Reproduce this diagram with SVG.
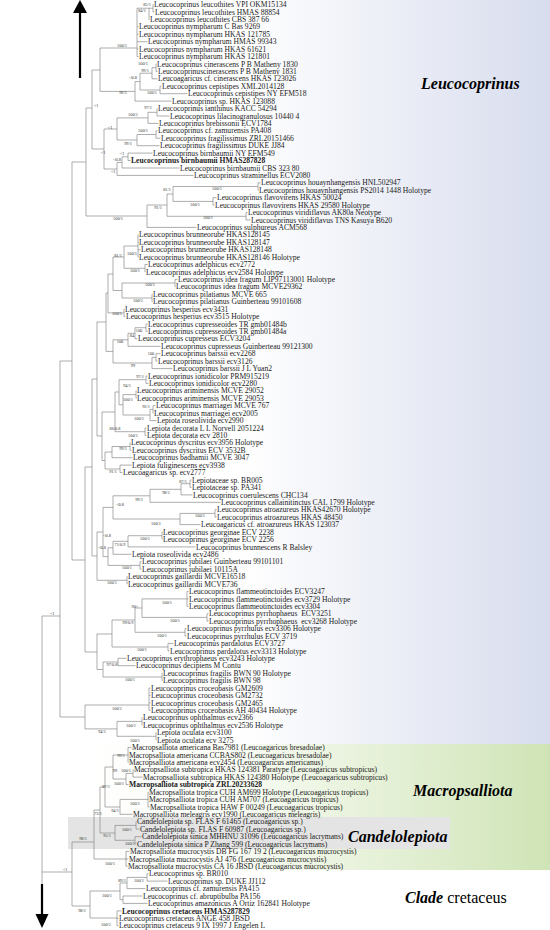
<svg xmlns="http://www.w3.org/2000/svg" width="550" height="930" viewBox="0 0 550 930">
<style>
.t{font-family:"Liberation Serif",serif;font-size:7.6px;fill:#1a1a1a}
.b{font-weight:bold}
.s{font-family:"Liberation Serif",serif;font-size:4.3px;fill:#333;text-anchor:middle}
.c{fill:none;stroke:#8a8a8a;stroke-width:0.7}
.h{font-family:"Liberation Serif",serif;font-size:16px;fill:#000}
</style>
<defs>
<linearGradient id="gL" x1="0" x2="1" y1="0" y2="0"><stop offset="0" stop-color="#fff"/><stop offset="0.35" stop-color="#fff"/><stop offset="1" stop-color="#d8ddee"/></linearGradient>
<linearGradient id="gM" x1="0" x2="1" y1="0" y2="0"><stop offset="0" stop-color="#fff"/><stop offset="0.3" stop-color="#fbfdf8"/><stop offset="1" stop-color="#cfe4b6"/></linearGradient>
</defs>
<g id="backgrounds">
<rect x="72" y="0" width="478" height="744" fill="url(#gL)"/>
<rect x="72" y="744" width="478" height="126" fill="url(#gM)"/>
<rect x="68" y="817" width="382" height="32" fill="#e4e4e4"/>
</g>
<g id="connectors">
<path class="c" d="M153 4.5V11.9M153 4.5H153.5M153 11.9H154.5
M149 8.2V19.4M149 8.2H153M149 19.4H149.5
M137 8.2V56.5M137 8.2H149M137 26.8H138.5M137 34.2H138.5M137 41.7H147.5M137 49.1H138.5M137 56.5H138.5
M156 63.9V71.4M156 63.9H156.5M156 71.4H157.5
M152 67.6V78.8M152 67.6H156M152 78.8H157.5
M160 86.2V93.7M160 86.2H161.5M160 93.7H187.5
M140 73.2V90M140 73.2H152M140 90H160
M135 81.6V101.1M135 81.6H140M135 101.1H171.5
M100 48V91.4M100 48H137M100 91.4H135
M157 108.5V116M157 108.5H157.5M157 116H169.5
M148 112.3V123.4M148 112.3H157M148 123.4H158.5
M156 130.8V138.2M156 130.8H157.5M156 138.2H160.5
M137 134.5V145.7M137 134.5H156M137 145.7H159.5
M117 117.9V140M117 117.9H148M117 140H137
M128 153.1V160.5M128 153.1H152.5M128 160.5H130.5
M122 156.8V168M122 156.8H128M122 168H179.5
M117 162.4V175.4M117 162.4H122M117 175.4H193.5
M104 129V169M104 129H117M104 169H117
M92 70V149M92 70H100M92 149H104
M258 182.8V190.3M258 182.8H260.5M258 190.3H258.5
M213 197.7V205.1M213 197.7H216.5M213 205.1H214.5
M173 186.5V201.4M173 186.5H258M173 201.4H213
M246 212.5V220M246 212.5H247.5M246 220H250.5
M167 194V216.3M167 194H173M167 216.3H246
M147 205V227.4M147 205H167M147 227.4H196.5
M86 108V216M86 108H92M86 216H147
M138 234.8V257.1M138 234.8H138.5M138 242.3H138.5M138 249.7H140.5M138 257.1H138.5
M145 264.5V272M145 264.5H147.5M145 272H145.5
M124 246V268.3M124 246H138M124 268.3H145
M175 279.4V286.8M175 279.4H177.5M175 286.8H175.5
M152 294.3V301.7M152 294.3H152.5M152 301.7H152.5
M122 283V298M122 283H175M122 298H152
M113 257V290.5M113 257H124M113 290.5H122
M124 309.1V316.6M124 309.1H124.5M124 316.6H125.5
M108 274V312.9M108 274H113M108 312.9H124
M146 324V331.4M146 324H147.5M146 331.4H147.5
M135 327.7V338.8M135 327.7H146M135 338.8H137.5
M128 333.3V346.3M128 333.3H135M128 346.3H160.5
M156 353.7V361.1M156 353.7H160.5M156 361.1H157.5
M152 357.4V368.6M152 357.4H156M152 368.6H172.5
M113 339.8V363M113 339.8H128M113 363H152
M106 293V351.4M106 293H108M106 351.4H113
M146 376V383.4M146 376H147.5M146 383.4H148.5
M136 390.8V398.3M136 390.8H136.5M136 398.3H136.5
M153 405.7V413.1M153 405.7H155.5M153 413.1H153.5
M150 409.4V420.6M150 409.4H153M150 420.6H156.5
M123 394.6V415M123 394.6H136M123 415H150
M119 379.7V404.8M119 379.7H146M119 404.8H123
M145 428V435.4M145 428H146.5M145 435.4H146.5
M115 392V431.7M115 392H119M115 431.7H145
M130 442.8V450.3M130 442.8H130.5M130 450.3H131.5
M112 446.5V457.7M112 446.5H130M112 457.7H132.5
M120 465.1V472.6M120 465.1H131.5M120 472.6H122.5
M105 452V469M105 452H112M105 469H120
M102 412V460.5M102 412H115M102 460.5H105
M97 322V436M97 322H106M97 436H102
M190 480V487.4M190 480H191.5M190 487.4H191.5
M181 483.7V494.9M181 483.7H190M181 494.9H192.5
M150 489.3V502.3M150 489.3H181M150 502.3H220.5
M215 509.7V517.1M215 509.7H216.5M215 517.1H216.5
M180 513.4V524.6M180 513.4H215M180 524.6H200.5
M113 495.8V519M113 495.8H150M113 519H180
M162 532V539.4M162 532H162.5M162 539.4H162.5
M128 535.7V546.9M128 535.7H162M128 546.9H195.5
M113 541.3V554.3M113 541.3H128M113 554.3H131.5
M140 561.7V569.1M140 561.7H141.5M140 569.1H141.5
M108 547.8V565.4M108 547.8H113M108 565.4H140
M103 507.4V556.6M103 507.4H113M103 556.6H108
M127 576.6V584M127 576.6H127.5M127 584H127.5
M97 532V580.3M97 532H103M97 580.3H127
M187 591.4V606.3M187 591.4H188.5M187 598.9H188.5M187 606.3H188.5
M207 613.7V621.1M207 613.7H208.5M207 621.1H208.5
M142 598.9V617.4M142 598.9H187M142 617.4H207
M185 628.6V636M185 628.6H186.5M185 636H186.5
M135 608V632.3M135 608H142M135 632.3H185
M168 643.4V650.9M168 643.4H173.5M168 650.9H169.5
M112 620V647M112 620H135M112 647H168
M118 658.3V665.7M118 658.3H126.5M118 665.7H135.5
M162 673.1V680.6M162 673.1H162.5M162 680.6H162.5
M103 662V677M103 662H118M103 677H162
M97 634V669.5M97 634H112M97 669.5H103
M92 379V556M92 379H97M92 556H97
M85 467V652M85 467H92M85 652H97
M149 688V710.3M149 688H150.5M149 695.4H150.5M149 702.9H150.5M149 710.3H150.5
M142 717.7V725.1M142 717.7H142.5M142 725.1H142.5
M156 732.6V740M156 732.6H156.5M156 740H156.5
M117 721.4V736.3M117 721.4H142M117 736.3H156
M85 705V728.9M85 705H149M85 728.9H117
M72 162V560M72 162H86M72 560H85
M60 361V717M60 361H72M60 717H85
M128 747.4V762.3M128 747.4H131.5M128 754.9H128.5M128 762.3H128.5
M133 769.7V777.1M133 769.7H133.5M133 777.1H142.5
M126 773.4V784.6M126 773.4H133M126 784.6H128.5
M113 755V779M113 755H128M113 779H126
M148 792V806.9M148 792H148.5M148 799.4H148.5M148 806.9H149.5
M120 799.4V814.3M120 799.4H148M120 814.3H132.5
M105 767V807M105 767H113M105 807H120
M136 821.7V829.1M136 821.7H136.5M136 829.1H139.5
M135 836.6V844M135 836.6H141.5M135 844H136.5
M115 825.4V840.3M115 825.4H136M115 840.3H135
M100 787V833M100 787H105M100 833H115
M126 851.4V866.3M126 851.4H129.5M126 858.9H128.5M126 866.3H127.5
M94 810V859M94 810H100M94 859H126
M147 873.7V881.1M147 873.7H148.5M147 881.1H167.5
M127 877.4V888.6M127 877.4H147M127 888.6H145.5
M123 896V903.4M123 896H142.5M123 903.4H147.5
M120 883V899.7M120 883H127M120 899.7H123
M117 910.9V925.7M117 910.9H121.5M117 918.3H118.5M117 925.7H118.5
M90 891V918M90 891H120M90 918H117
M72 842V906M72 842H94M72 906H90
M42 616V884M42 616H60M42 872H72"/>
<path d="M80 78V12" stroke="#000" stroke-width="2.2"/>
<path d="M73 13L80 0L87 13z" fill="#000"/>
<path d="M42 884V915" stroke="#000" stroke-width="2.2"/>
<path d="M35.5 914L42 928L48.5 914z" fill="#000"/>
</g>
<g id="support">
<text class="s" x="147" y="5.5">85/1</text>
<text class="s" x="142" y="11.5">84/1</text>
<text class="s" x="122" y="46.5">100/1</text>
<text class="s" x="143" y="64.5">100/1</text>
<text class="s" x="145" y="71.5">99/1</text>
<text class="s" x="133" y="78.5">-/0.8</text>
<text class="s" x="152" y="93.5">100/1</text>
<text class="s" x="123" y="93.5">96/1</text>
<text class="s" x="96" y="106.5">-/1</text>
<text class="s" x="148" y="108.5">97/1</text>
<text class="s" x="133" y="115.5">100/1</text>
<text class="s" x="110" y="128.5">-/1</text>
<text class="s" x="143" y="131.5">100/1</text>
<text class="s" x="128" y="144.5">99/1</text>
<text class="s" x="103" y="153.5">-/1</text>
<text class="s" x="122" y="154.5">-/1</text>
<text class="s" x="117" y="160.5">-/0.8</text>
<text class="s" x="113" y="172.5">-/1</text>
<text class="s" x="167" y="190.5">81/1</text>
<text class="s" x="217" y="189.5">100/1</text>
<text class="s" x="195" y="205.5">100/1</text>
<text class="s" x="158" y="208.5">91/1</text>
<text class="s" x="208" y="218.5">100/1</text>
<text class="s" x="118" y="219.5">100/1</text>
<text class="s" x="132" y="254.5">100/1</text>
<text class="s" x="118" y="256.5">81/1</text>
<text class="s" x="135" y="271.5">100/1</text>
<text class="s" x="150" y="285.5">100/1</text>
<text class="s" x="138" y="301.5">100/1</text>
<text class="s" x="117" y="314.5">100/1</text>
<text class="s" x="139" y="331.5">100</text>
<text class="s" x="132" y="336.5">84</text>
<text class="s" x="120" y="342.5">100</text>
<text class="s" x="151" y="354.5">100</text>
<text class="s" x="133" y="366.5">99</text>
<text class="s" x="140" y="377.5">97/1</text>
<text class="s" x="127" y="386.5">94/1</text>
<text class="s" x="128" y="400.5">100/1</text>
<text class="s" x="146" y="407.5">92/1</text>
<text class="s" x="139" y="419.5">100/1</text>
<text class="s" x="115" y="429.5">86/0.8</text>
<text class="s" x="133" y="436.5">100/1</text>
<text class="s" x="123" y="449.5">99/1</text>
<text class="s" x="113" y="472.5">91/1</text>
<text class="s" x="183" y="482.5">87/1</text>
<text class="s" x="166" y="493.5">98/1</text>
<text class="s" x="139" y="500.5">99/1</text>
<text class="s" x="120" y="505.5">-/0.8</text>
<text class="s" x="200" y="516.5">100/1</text>
<text class="s" x="156" y="524.5">100/1</text>
<text class="s" x="107" y="536.5">-/0.8</text>
<text class="s" x="145" y="539.5">100/1</text>
<text class="s" x="120" y="545.5">71/0.9</text>
<text class="s" x="102" y="548.5">-/0.8</text>
<text class="s" x="127" y="568.5">100/1</text>
<text class="s" x="112" y="583.5">100/1</text>
<text class="s" x="167" y="603.5">100/1</text>
<text class="s" x="135" y="607.5">90/-</text>
<text class="s" x="52" y="614.5">-/1</text>
<text class="s" x="175" y="621.5">100/1</text>
<text class="s" x="128" y="623.5">99/0.9</text>
<text class="s" x="162" y="636.5">100/1</text>
<text class="s" x="142" y="650.5">100/1</text>
<text class="s" x="112" y="665.5">97/0.8</text>
<text class="s" x="130" y="680.5">100/1</text>
<text class="s" x="117" y="709.5">100/1</text>
<text class="s" x="131" y="726.5">100/1</text>
<text class="s" x="102" y="732.5">94/1</text>
<text class="s" x="135" y="741.5">100/1</text>
<text class="s" x="121" y="756.5">99/1</text>
<text class="s" x="115" y="771.5">99</text>
<text class="s" x="126" y="771.5">100/1</text>
<text class="s" x="119" y="784.5">100/1</text>
<text class="s" x="106" y="787.5">87/1</text>
<text class="s" x="135" y="804.5">100/1</text>
<text class="s" x="115" y="811.5">94/1</text>
<text class="s" x="98" y="814.5">73/1</text>
<text class="s" x="127" y="830.5">100/1</text>
<text class="s" x="107" y="836.5">95/1</text>
<text class="s" x="83" y="839.5">98/1</text>
<text class="s" x="130" y="844.5">100/1</text>
<text class="s" x="110" y="864.5">100/1</text>
<text class="s" x="65" y="870.5">-/1</text>
<text class="s" x="122" y="881.5">89/1</text>
<text class="s" x="139" y="881.5">100/1</text>
<text class="s" x="107" y="896.5">100/1</text>
<text class="s" x="82" y="911.5">98/1</text>
<text class="s" x="106" y="925.5">100/1</text>
</g>
<g id="leaves">
<g id="n1"><text class="t" x="154" y="7.1">Leucocoprinus leucothites VPI OKM15134</text></g>
<g id="n2"><text class="t" x="155" y="14.5">Leucocoprinus leucothites HMAS 88854</text></g>
<g id="n3"><text class="t" x="150" y="22">Leucocoprinus leucothites CBS 387 66</text></g>
<g id="n4"><text class="t" x="139" y="29.4">Leucocoprinus nympharum C Bas 9269</text></g>
<g id="n5"><text class="t" x="139" y="36.8">Leucocoprinus nympharum HKAS 121785</text></g>
<g id="n6"><text class="t" x="148" y="44.3">Leucocoprinus nympharum HMAS 99343</text></g>
<g id="n7"><text class="t" x="139" y="51.7">Leucocoprinus nympharum HKAS 61621</text></g>
<g id="n8"><text class="t" x="139" y="59.1">Leucocoprinus nympharum HKAS 121801</text></g>
<g id="n9"><text class="t" x="157" y="66.5">Leucocoprinus cinerascens P B Matheny 1830</text></g>
<g id="n10"><text class="t" x="158" y="74">Leucocoprinuscinerascens P B Matheny 1831</text></g>
<g id="n11"><text class="t" x="158" y="81.4">Leucoagaricus cf. cinerascens HKAS 123026</text></g>
<g id="n12"><text class="t" x="162" y="88.8">Leucocoprinus cepistipes XML2014128</text></g>
<g id="n13"><text class="t" x="188" y="96.3">Leucocoprinus cepistipes NY EFM518</text></g>
<g id="n14"><text class="t" x="172" y="103.7">Leucocoprinus sp. HKAS 123088</text></g>
<g id="n15"><text class="t" x="158" y="111.1">Leucocoprinus ianthinus KACC 54294</text></g>
<g id="n16"><text class="t" x="170" y="118.6">Leucocoprinus lilacinogranulosus 10440 4</text></g>
<g id="n17"><text class="t" x="159" y="126">Leucocoprinus brebissonii ECV1784</text></g>
<g id="n18"><text class="t" x="158" y="133.4">Leucocoprinus cf. zamurensis PA408</text></g>
<g id="n19"><text class="t" x="161" y="140.8">Leucocoprinus fragilissimus ZRL20151466</text></g>
<g id="n20"><text class="t" x="160" y="148.3">Leucocoprinus fragilissimus DUKE JJ84</text></g>
<g id="n21"><text class="t" x="153" y="155.7">Leucocoprinus birnbaumii NY EFM549</text></g>
<g id="n22"><text class="t b" x="131" y="163.1">Leucocoprinus birnbaumii HMAS287828</text></g>
<g id="n23"><text class="t" x="180" y="170.6">Leucocoprinus birnbaumii CBS 323 80</text></g>
<g id="n24"><text class="t" x="194" y="178">Leucocoprinus straminellus ECV2080</text></g>
<g id="n25"><text class="t" x="261" y="185.4">Leucocoprinus houaynhangensis HNL502947</text></g>
<g id="n26"><text class="t" x="259" y="192.9">Leucocoprinus houaynhangensis PS2014 1448 Holotype</text></g>
<g id="n27"><text class="t" x="217" y="200.3">Leucocoprinus flavovirens HKAS 50024</text></g>
<g id="n28"><text class="t" x="215" y="207.7">Leucocoprinus flavovirens HKAS 29580 Holotype</text></g>
<g id="n29"><text class="t" x="248" y="215.1">Leucocoprinus viridiflavus AK80a Neotype</text></g>
<g id="n30"><text class="t" x="251" y="222.6">Leucocoprinus viridiflavus TNS Kasuya B620</text></g>
<g id="n31"><text class="t" x="197" y="230">Leucocoprinus sulphureus ACM568</text></g>
<g id="n32"><text class="t" x="139" y="237.4">Leucocoprinus brunneorube HKAS128145</text></g>
<g id="n33"><text class="t" x="139" y="244.9">Leucocoprinus brunneorube HKAS128147</text></g>
<g id="n34"><text class="t" x="141" y="252.3">Leucocoprinus brunneorube HKAS128148</text></g>
<g id="n35"><text class="t" x="139" y="259.7">Leucocoprinus brunneorube HKAS128146 Holotype</text></g>
<g id="n36"><text class="t" x="148" y="267.1">Leucocoprinus adelphicus ecv2772</text></g>
<g id="n37"><text class="t" x="146" y="274.6">Leucocoprinus adelphicus ecv2584 Holotype</text></g>
<g id="n38"><text class="t" x="178" y="282">Leucocoprinus idea fragum LIP97113001 Holotype</text></g>
<g id="n39"><text class="t" x="176" y="289.4">Leucocoprinus idea fragum MCVE29362</text></g>
<g id="n40"><text class="t" x="153" y="296.9">Leucocoprinus pilatianus MCVE 665</text></g>
<g id="n41"><text class="t" x="153" y="304.3">Leucocoprinus pilatianus Guinberteau 99101608</text></g>
<g id="n42"><text class="t" x="125" y="311.7">Leucocoprinus hesperius ecv3431</text></g>
<g id="n43"><text class="t" x="126" y="319.2">Leucocoprinus hesperius ecv3515 Holotype</text></g>
<g id="n44"><text class="t" x="148" y="326.6">Leucocoprinus cupresseoides TR gmb01484b</text></g>
<g id="n45"><text class="t" x="148" y="334">Leucocoprinus cupresseoides TR gmb01484a</text></g>
<g id="n46"><text class="t" x="138" y="341.4">Leucocoprinus cupresseus ECV3204</text></g>
<g id="n47"><text class="t" x="161" y="348.9">Leucocoprinus cupresseus Guinberteau 99121300</text></g>
<g id="n48"><text class="t" x="161" y="356.3">Leucocoprinus barssii ecv2268</text></g>
<g id="n49"><text class="t" x="158" y="363.7">Leucocoprinus barssii ecv3126</text></g>
<g id="n50"><text class="t" x="173" y="371.2">Leucocoprinus barssii J L Yuan2</text></g>
<g id="n51"><text class="t" x="148" y="378.6">Leucocoprinus ionidicolor PRM915219</text></g>
<g id="n52"><text class="t" x="149" y="386">Leucocoprinus ionidicolor ecv2280</text></g>
<g id="n53"><text class="t" x="137" y="393.4">Leucocoprinus ariminensis MCVE 29052</text></g>
<g id="n54"><text class="t" x="137" y="400.9">Leucocoprinus ariminensis MCVE 29053</text></g>
<g id="n55"><text class="t" x="156" y="408.3">Leucocoprinus marriagei MCVE 767</text></g>
<g id="n56"><text class="t" x="154" y="415.7">Leucocoprinus marriagei ecv2005</text></g>
<g id="n57"><text class="t" x="157" y="423.2">Lepiota roseolivida ecv2990</text></g>
<g id="n58"><text class="t" x="147" y="430.6">Lepiota decorata L L Norvell 2051224</text></g>
<g id="n59"><text class="t" x="147" y="438">Lepiota decorata ecv 2810</text></g>
<g id="n60"><text class="t" x="131" y="445.4">Leucocoprinus dyscritus ecv3956 Holotype</text></g>
<g id="n61"><text class="t" x="132" y="452.9">Leucocoprinus dyscritus ECV 3532B</text></g>
<g id="n62"><text class="t" x="133" y="460.3">Leucocoprinus badhamii MCVE 3047</text></g>
<g id="n63"><text class="t" x="132" y="467.7">Lepiota fuliginescens ecv3938</text></g>
<g id="n64"><text class="t" x="123" y="475.2">Leucoagaricus sp. ecv2777</text></g>
<g id="n65"><text class="t" x="192" y="482.6">Lepiotaceae sp. BR005</text></g>
<g id="n66"><text class="t" x="192" y="490">Lepiotaceae sp. PA341</text></g>
<g id="n67"><text class="t" x="193" y="497.5">Leucocoprinus coerulescens CHC134</text></g>
<g id="n68"><text class="t" x="221" y="504.9">Leucocoprinus callainitinctus CAL 1799 Holotype</text></g>
<g id="n69"><text class="t" x="217" y="512.3">Leucocoprinus atroazureus HKAS42670 Holotype</text></g>
<g id="n70"><text class="t" x="217" y="519.7">Leucocoprinus atroazureus HKAS 48450</text></g>
<g id="n71"><text class="t" x="201" y="527.2">Leucoagaricus cf. atroazureus HKAS 123037</text></g>
<g id="n72"><text class="t" x="163" y="534.6">Leucocoprinus georginae ECV 2238</text></g>
<g id="n73"><text class="t" x="163" y="542">Leucocoprinus georginae ECV 2256</text></g>
<g id="n74"><text class="t" x="196" y="549.5">Leucocoprinus brunnescens R Balsley</text></g>
<g id="n75"><text class="t" x="132" y="556.9">Lepiota roseolivida ecv2486</text></g>
<g id="n76"><text class="t" x="142" y="564.3">Leucocoprinus jubilaei Guinberteau 99101101</text></g>
<g id="n77"><text class="t" x="142" y="571.7">Leucocoprinus jubilaei 10115A</text></g>
<g id="n78"><text class="t" x="128" y="579.2">Leucocoprinus gaillardii MCVE16518</text></g>
<g id="n79"><text class="t" x="128" y="586.6">Leucocoprinus gaillardii MCVE736</text></g>
<g id="n80"><text class="t" x="189" y="594">Leucocoprinus flammeotinctoides ECV3247</text></g>
<g id="n81"><text class="t" x="189" y="601.5">Leucocoprinus flammeotinctoides ecv3729 Holotype</text></g>
<g id="n82"><text class="t" x="189" y="608.9">Leucocoprinus flammeotinctoides ecv3304</text></g>
<g id="n83"><text class="t" x="209" y="616.3" xml:space="preserve">Leucocoprinus pyrrhophaeus  ECV3251</text></g>
<g id="n84"><text class="t" x="209" y="623.7" xml:space="preserve">Leucocoprinus pyrrhophaeus  ecv3268 Holotype</text></g>
<g id="n85"><text class="t" x="187" y="631.2">Leucocoprinus pyrrhulus ecv3306 Holotype</text></g>
<g id="n86"><text class="t" x="187" y="638.6">Leucocoprinus pyrrhulus ECV 3719</text></g>
<g id="n87"><text class="t" x="174" y="646">Leucocoprinus pardalotus ECV3727</text></g>
<g id="n88"><text class="t" x="170" y="653.5">Leucocoprinus pardalotus ecv3313 Holotype</text></g>
<g id="n89"><text class="t" x="127" y="660.9">Leucocoprinus erythrophaeus ecv3243 Holotype</text></g>
<g id="n90"><text class="t" x="136" y="668.3">Leucocoprinus decipiens M Contu</text></g>
<g id="n91"><text class="t" x="163" y="675.7">Leucocoprinus fragilis BWN 90 Holotype</text></g>
<g id="n92"><text class="t" x="163" y="683.2">Leucocoprinus fragilis BWN 98</text></g>
<g id="n93"><text class="t" x="151" y="690.6">Leucocoprinus croceobasis GM2609</text></g>
<g id="n94"><text class="t" x="151" y="698">Leucocoprinus croceobasis GM2732</text></g>
<g id="n95"><text class="t" x="151" y="705.5">Leucocoprinus croceobasis GM2465</text></g>
<g id="n96"><text class="t" x="151" y="712.9">Leucocoprinus croceobasis AH 40434 Holotype</text></g>
<g id="n97"><text class="t" x="143" y="720.3">Leucocoprinus ophthalmus ecv2366</text></g>
<g id="n98"><text class="t" x="143" y="727.7">Leucocoprinus ophthalmus ecv2536 Holotype</text></g>
<g id="n99"><text class="t" x="157" y="735.2">Lepiota oculata ecv3100</text></g>
<g id="n100"><text class="t" x="157" y="742.6">Lepiota oculata ecv 3275</text></g>
<g id="n101"><text class="t" x="132" y="750">Macropsalliota americana Bas7981 (Leucoagaricus bresadolae)</text></g>
<g id="n102"><text class="t" x="129" y="757.5">Macropsalliota americana CCBAS802 (Leucoagaricus bresadolae)</text></g>
<g id="n103"><text class="t" x="129" y="764.9">Macropsalliota americana ecv2454 (Leucoagaricus americanus)</text></g>
<g id="n104"><text class="t" x="134" y="772.3">Macropsalliota subtropica HKAS 124381 Paratype (Leucoagaricus subtropicus)</text></g>
<g id="n105"><text class="t" x="143" y="779.7">Macropsalliota subtropica HKAS 124380 Holotype (Leucoagaricus subtropicus)</text></g>
<g id="n106"><text class="t b" x="129" y="787.2">Macropsalliota subtropica ZRL20233628</text></g>
<g id="n107"><text class="t" x="149" y="794.6">Macropsalliota tropica CUH AM699 Holotype (Leucoagaricus tropicus)</text></g>
<g id="n108"><text class="t" x="149" y="802">Macropsalliota tropica CUH AM707 (Leucoagaricus tropicus)</text></g>
<g id="n109"><text class="t" x="150" y="809.5">Macropsalliota tropica HAW F 00249 (Leucoagaricus tropicus)</text></g>
<g id="n110"><text class="t" x="133" y="816.9">Macropsalliota meleagris ecv1990 (Leucoagaricus meleagris)</text></g>
<g id="n111"><text class="t" x="137" y="824.3">Candelolepiota sp. FLAS F 61465 (Leucoagaricus sp.)</text></g>
<g id="n112"><text class="t" x="140" y="831.7">Candelolepiota sp. FLAS F 60987 (Leucoagaricus sp.)</text></g>
<g id="n113"><text class="t" x="142" y="839.2">Candelolepiota sinica MHHNU 31096 (Leucoagaricus lacrymans)</text></g>
<g id="n114"><text class="t" x="137" y="846.6">Candelolepiota sinica P Zhang 599 (Leucoagaricus lacrymans)</text></g>
<g id="n115"><text class="t" x="130" y="854">Macropsalliota mucrocystis DB FG 167 19 2 (Leucoagaricus mucrocystis)</text></g>
<g id="n116"><text class="t" x="129" y="861.5">Macropsalliota mucrocystis AJ 476 (Leucoagaricus mucrocystis)</text></g>
<g id="n117"><text class="t" x="128" y="868.9">Macropsalliota mucrocystis CA 16 JBSD (Leucoagaricus mucrocystis)</text></g>
<g id="n118"><text class="t" x="149" y="876.3">Leucocoprinus sp. BR010</text></g>
<g id="n119"><text class="t" x="168" y="883.7">Leucocoprinus sp. DUKE JJ112</text></g>
<g id="n120"><text class="t" x="146" y="891.2">Leucocoprinus cf. zamurensis PA415</text></g>
<g id="n121"><text class="t" x="143" y="898.6">Leucocoprinus cf. abruptibulba PA156</text></g>
<g id="n122"><text class="t" x="148" y="906">Leucocoprinus amazonicus A Ortiz 162841 Holotype</text></g>
<g id="n123"><text class="t b" x="122" y="913.5">Leucocoprinus cretaceus HMAS287829</text></g>
<g id="n124"><text class="t" x="119" y="920.9">Leucocoprinus cretaceus ANGE 458 JBSD</text></g>
<g id="n125"><text class="t" x="119" y="928.3">Leucocoprinus cretaceus 9 IX 1997 J Engelen L</text></g>
</g>
<g id="clade-labels">
<text class="h" x="421" y="89" font-weight="bold" font-style="italic">Leucocoprinus</text>
<text class="h" x="413" y="796" font-weight="bold" font-style="italic">Macropsalliota</text>
<text class="h" x="348" y="842" font-weight="bold" font-style="italic">Candelolepiota</text>
<text class="h" x="405" y="903"><tspan font-style="italic" font-weight="bold">Clade</tspan> cretaceus</text>
</g>
</svg>
